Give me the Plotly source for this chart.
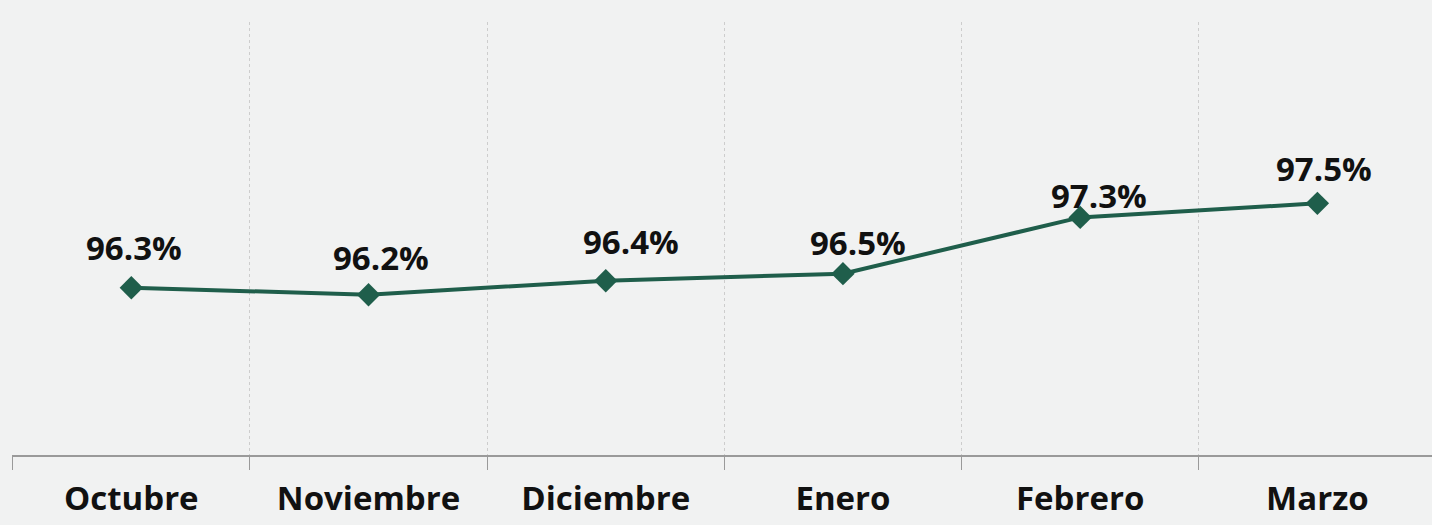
import plotly.graph_objects as go

# monthly values (%)
months = ["Octubre", "Noviembre", "Diciembre", "Enero", "Febrero", "Marzo"]
values = [96.3, 96.2, 96.4, 96.5, 97.3, 97.5]
labels = ["96.3%", "96.2%", "96.4%", "96.5%", "97.3%", "97.5%"]

GREEN = "#1f5e4b"
FONT = "Open Sans"

# labels were hand-placed in the original, so each gets its own nudge (px)
label_nudge = [(3, 40), (12, 37), (25, 39), (15, 31), (19, 22), (7, 35)]

fig = go.Figure()

fig.add_trace(go.Scatter(
    x=months, y=values,
    mode="lines+markers",
    line=dict(color=GREEN, width=4),
    marker=dict(symbol="diamond", size=18, color=GREEN),
    hoverinfo="x+y",
    showlegend=False,
))

for m, v, t, (dx, dy) in zip(months, values, labels, label_nudge):
    fig.add_annotation(
        x=m, y=v, text=t, showarrow=False,
        xshift=dx, yshift=dy,
        font=dict(family=FONT, size=33, color="#111111", weight="bold"),
    )

fig.update_xaxes(
    type="category",
    tickson="boundaries",
    ticks="outside", ticklen=13, tickcolor="#9a9a9a", tickwidth=1,
    showline=True, linecolor="#9a9a9a", linewidth=2,
    showgrid=True, gridcolor="#cdcdcd", griddash="3px,3px", gridwidth=1,
    tickfont=dict(family=FONT, size=33, color="#111111", weight="bold"),
    ticklabelstandoff=13,
    automargin=False,
    range=[-0.503, 5.5],
)
fig.update_yaxes(
    range=[93.92, 100.08],
    showgrid=False, showticklabels=False, zeroline=False, showline=False,
)

# figure is a touch wider than the window so the last boundary falls off-screen
fig.update_layout(
    width=1436, height=525,
    margin=dict(l=12, r=0, t=22, b=70),
    paper_bgcolor="#f1f2f2",
    plot_bgcolor="#f1f2f2",
)

fig.write_html(
    "out.html",
    config={"displayModeBar": False},
    post_script="document.body.style.margin='0';document.body.style.overflow='hidden';",
)
